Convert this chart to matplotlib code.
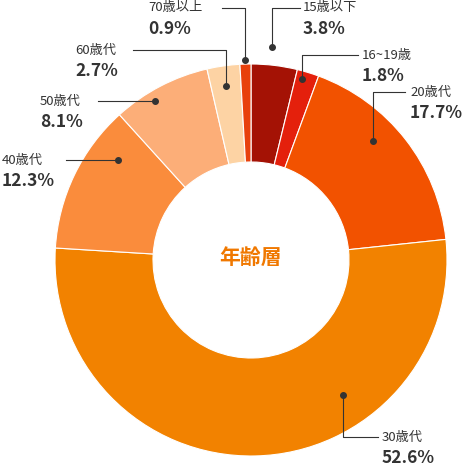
import matplotlib
matplotlib.use('Agg')
import matplotlib.pyplot as plt
from matplotlib.patches import Wedge

plt.rcParams['font.family'] = ['Noto Sans CJK JP', 'DejaVu Sans']

labels = ['15歳以下', '16~19歳', '20歳代', '30歳代', '40歳代', '50歳代', '60歳代', '70歳以上']
values = [3.8, 1.8, 17.7, 52.6, 12.3, 8.1, 2.7, 0.9]
colors = ['#a41205', '#e4200c', '#f25200', '#f28200', '#fa8c3c', '#fcae78', '#fdd3a4', '#e8400c']

# label layout in pixel coords: dot, elbow, text anchor, text alignment
dots = [(272, 47), (302, 79), (373, 141), (343, 395), (118, 160), (155, 101), (226, 86), (245, 60)]
elbows = [(272, 8), (302, 55), (373, 92), (343, 437), (118, 160), (155, 101), (226, 50), (245, 8)]
ends = [(300, 8), (358, 55), (405, 92), (378, 437), (66, 160), (98, 101), (133, 50), (222, 8)]
texts = [(303, 'left'), (362, 'left'), (410, 'left'), (382, 'left'),
         (2, 'left'), (40, 'left'), (75, 'left'), (148, 'left')]

cx, cy, r_out, r_in = 251, 260, 196, 98

fig = plt.figure(figsize=(4.67, 4.66), dpi=100)
ax = fig.add_axes([0, 0, 1, 1])
ax.set_xlim(0, 467)
ax.set_ylim(466, 0)
ax.axis('off')

# y axis is inverted, so angles run clockwise on screen when increasing
start = -90.0
for v, c in zip(values, colors):
    span = v / sum(values) * 360
    ax.add_patch(Wedge((cx, cy), r_out, start, start + span, width=r_out - r_in,
                       facecolor=c, edgecolor='white', linewidth=0.8))
    start += span

ax.text(cx, cy - 3, '年齢層', ha='center', va='center', fontsize=15,
        fontweight='bold', color='#f07800')

for lab, v, d, e, en, (tx, ha) in zip(labels, values, dots, elbows, ends, texts):
    ax.plot([d[0], e[0], en[0]], [d[1], e[1], en[1]], color='#333333', lw=0.8)
    ax.plot(d[0], d[1], 'o', color='#333333', ms=4)
    ax.text(tx, e[1], lab, ha=ha, va='center', fontsize=9.5, color='#333333')
    ax.text(tx, e[1] + 21, f'{v}%', ha=ha, va='center', fontsize=12.5,
            fontweight='bold', color='#333333')

fig.savefig('out.png', dpi=100)
